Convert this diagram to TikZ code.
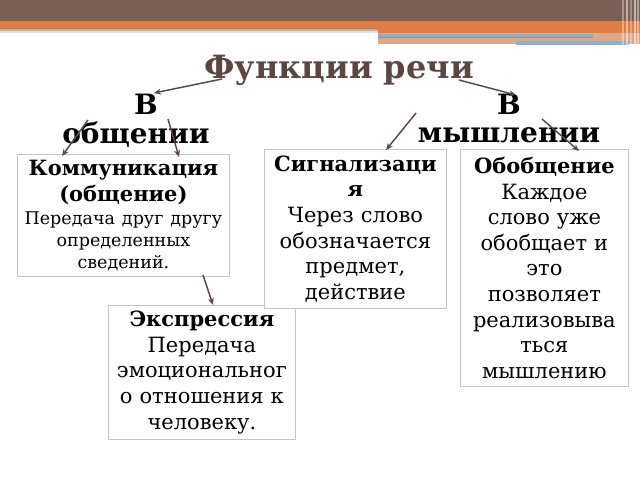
\documentclass[tikz,border=0pt]{standalone}
\usepackage{fontspec}
\setmainfont{DejaVu Serif}
\usetikzlibrary{arrows.meta}
\definecolor{topbrown}{HTML}{7A5F55}
\definecolor{toporange}{HTML}{E07D45}
\definecolor{toptan}{HTML}{DDA888}
\definecolor{topblue}{HTML}{8FB0C8}
\definecolor{titlebrown}{HTML}{5B4740}
\definecolor{arrowbrown}{HTML}{5E4B45}
\definecolor{boxgray}{HTML}{C4C4C4}
\tikzset{
  fbox/.style={draw=boxgray, line width=0.8bp, align=center, inner xsep=3bp, inner ysep=2bp, anchor=north west, fill=white,
    font=\fontsize{21bp}{25.6bp}\selectfont},
  farrow/.style={draw=arrowbrown, line width=1.5bp, -{Stealth[length=7bp,width=6bp]}},
  headtext/.style={font=\bfseries\fontsize{28bp}{34bp}\selectfont, inner sep=0pt}
}
\begin{document}
\begin{tikzpicture}[x=1bp,y=-1bp]
\useasboundingbox (0,0) rectangle (640,480);
\fill[white] (0,0) rectangle (640,480);
% top bands
\fill[topbrown] (0,0) rectangle (640,21);
\fill[toporange] (0,21) rectangle (640,28);
\fill[topbrown!80] (0,28) rectangle (378,29.5);
\fill[toptan] (0,29.5) rectangle (378,31);
\fill[gray!25] (0,31) rectangle (378,33);
\fill[toporange] (378,28) rectangle (640,33);
\fill[toptan] (378,33) rectangle (640,44);
\fill[topblue] (378,34) rectangle (593,37);
\fill[topbrown!70] (378,37) rectangle (593,38);
\fill[topblue] (516,41) rectangle (629,45);
\foreach \xx/\op in {622/0.35,626/0.5,630/0.3,634/0.55,637/0.4}
  \fill[white, opacity=\op] (\xx,0) rectangle (\xx+1.5,45);
% title and headings
\node[font=\bfseries\fontsize{32bp}{38bp}\selectfont, text=titlebrown, inner sep=0pt] (title) at (339,70) {Функции речи};
\node[headtext] (vl) at (146,104) {В};
\node[headtext] (obsh) at (136,135) {общении};
\node[headtext] (vr) at (509,104) {В};
\node[headtext] (mysh) at (509,135) {мышлении};
% boxes
\node[fbox, minimum width=212bp, minimum height=122bp, text width=206bp,
      font=\bfseries\fontsize{21bp}{26bp}\selectfont] (komm) at (17,154)
  {Коммуникация\\(общение)\\[-3bp]
   {\mdseries\fontsize{17.5bp}{21bp}\selectfont Передача друг другу}\\[-4bp]
   {\mdseries\fontsize{17.5bp}{21bp}\selectfont определенных}\\[-4bp]
   {\mdseries\fontsize{17.5bp}{21bp}\selectfont сведений.}};
\node[fbox, minimum width=187bp, minimum height=134bp, text width=181bp] (expr) at (108,305)
  {\textbf{Экспрессия}\\Передача\\эмоциональног\\о отношения к\\человеку.};
\node[fbox, minimum width=182bp, minimum height=159bp, text width=176bp] (sign) at (264,149)
  {\textbf{Сигнализаци}\\\textbf{я}\\Через слово\\обозначается\\предмет,\\действие};
\node[fbox, minimum width=168bp, minimum height=237bp, text width=162bp] (obob) at (460,149)
  {\textbf{Обобщение}\\Каждое\\слово уже\\обобщает и\\это\\позволяет\\реализовыва\\ться\\мышлению};
% arrow end points
\coordinate (a1s) at (222,79);  \coordinate (a1e) at (154,93);
\coordinate (a2s) at (459,80);  \coordinate (a2e) at (516,95);
\coordinate (a3s) at (88,120);  \coordinate (a3e) at (62,156);
\coordinate (a4s) at (168,119); \coordinate (a4e) at (179,157);
\coordinate (a5s) at (416,113); \coordinate (a5e) at (386,150);
\coordinate (a6s) at (542,119); \coordinate (a6e) at (579,151);
\coordinate (a7s) at (203,275); \coordinate (a7e) at (213,305);
\draw[farrow] (a1s) -- (a1e);
\draw[farrow] (a2s) -- (a2e);
\draw[farrow] (a3s) -- (a3e);
\draw[farrow] (a4s) -- (a4e);
\draw[farrow] (a5s) -- (a5e);
\draw[farrow] (a6s) -- (a6e);
\draw[farrow] (a7s) -- (a7e);
\end{tikzpicture}
\end{document}
